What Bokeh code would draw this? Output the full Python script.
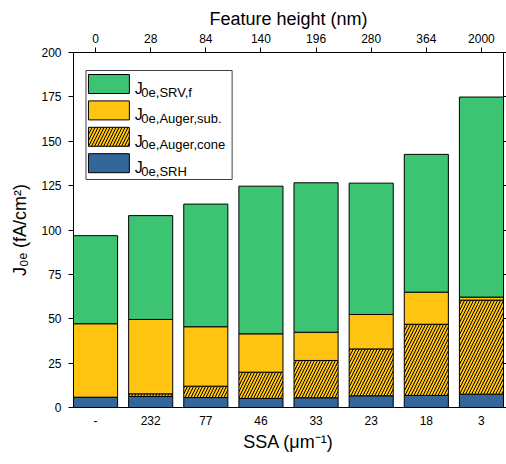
from bokeh.plotting import figure
from bokeh.models import Range1d, FixedTicker, LinearAxis, Label
from bokeh.embed import file_html
from bokeh.resources import INLINE

# ---------------- data ----------------
bar_pos = [1, 2, 3, 4, 5, 6, 7, 8]
ssa_labels = ["-", "232", "77", "46", "33", "23", "18", "3"]
height_labels = ["0", "28", "84", "140", "196", "280", "364", "2000"]
j_srh = [5.8, 6.2, 5.6, 5.1, 5.5, 6.6, 6.8, 7.5]
j_auger_cone = [0.0, 1.5, 6.4, 14.8, 21.0, 26.4, 40.1, 53.0]
j_auger_sub = [41.4, 41.9, 33.5, 21.6, 15.9, 19.4, 18.1, 1.7]
j_srv = [49.6, 58.5, 69.1, 83.2, 84.2, 74.0, 77.6, 112.7]
y_ticks = [0, 25, 50, 75, 100, 125, 150, 175, 200]

# ---------------- style ----------------
FONT = "Liberation Sans"
GREEN = "#3CC473"
YELLOW = "#FFC412"
BLUE = "#336699"
W, H = 506, 464
FL, FR, FT, FB = 73, 504, 52, 407     # frame edges (px)
X0, X1, Y0, Y1 = 0.6, 8.4, 0, 200

p = figure(width=W, height=H, x_range=Range1d(X0, X1), y_range=Range1d(Y0, Y1),
           output_backend="svg", toolbar_location=None,
           x_axis_location=None, y_axis_location=None,
           min_border_left=FL, min_border_right=W - FR,
           min_border_top=FT, min_border_bottom=H - FB)
p.xgrid.visible = False
p.ygrid.visible = False
p.outline_line_color = "black"
p.background_fill_color = "white"
p.border_fill_color = "white"

def style_axis(ax):
    ax.axis_line_color = "black"
    ax.major_tick_line_color = "black"
    ax.minor_tick_line_color = None
    ax.major_label_text_font = FONT
    ax.major_label_text_font_size = "12px"
    ax.major_label_text_color = "black"
    ax.major_tick_in = 0
    ax.axis_label_text_font = FONT
    ax.axis_label_text_font_size = "18px"
    ax.axis_label_text_font_style = "normal"
    ax.axis_label_text_color = "black"

xt = FixedTicker(ticks=bar_pos)
bottom = LinearAxis(ticker=xt, major_label_overrides={x: l for x, l in zip(bar_pos, ssa_labels)})
style_axis(bottom)
bottom.major_tick_out = 0
bottom.major_label_standoff = 8
bottom.axis_label = "SSA (μm⁻¹)"
bottom.axis_label_standoff = 4
p.add_layout(bottom, "below")

top = LinearAxis(ticker=xt, major_label_overrides={x: l for x, l in zip(bar_pos, height_labels)})
style_axis(top)
top.major_tick_out = 5
top.major_label_standoff = 5
top.axis_label = "Feature height (nm)"
top.axis_label_standoff = 2
p.add_layout(top, "above")

yt = FixedTicker(ticks=y_ticks)
left = LinearAxis(ticker=yt)
style_axis(left)
left.major_tick_out = 5
left.major_label_standoff = 7
left.axis_label = "J₀ₑ (fA/cm²)"
left.axis_label_standoff = 8
p.add_layout(left, "left")

right = LinearAxis(ticker=yt, major_label_overrides={t: "" for t in y_ticks})
style_axis(right)
right.major_tick_out = 3
right.major_label_standoff = 0
p.add_layout(right, "right")

# ---------------- stacked bars ----------------
b0 = [0.0] * len(bar_pos)
b1 = [a + b for a, b in zip(b0, j_srh)]
b2 = [a + b for a, b in zip(b1, j_auger_cone)]
b3 = [a + b for a, b in zip(b2, j_auger_sub)]
b4 = [a + b for a, b in zip(b3, j_srv)]

HATCH = dict(hatch_pattern="/", hatch_color="black", hatch_scale=6, hatch_weight=1)
common = dict(x=bar_pos, width=0.8, line_color="black", line_width=1)
p.vbar(bottom=b0, top=b1, fill_color=BLUE, **common)
p.vbar(bottom=b1, top=b2, fill_color=YELLOW, **HATCH, **common)
p.vbar(bottom=b2, top=b3, fill_color=YELLOW, **common)
p.vbar(bottom=b3, top=b4, fill_color=GREEN, **common)

# ---------------- legend (box, swatches, subscripted labels) ----------------
def dx(px):
    return X0 + (px - FL) * (X1 - X0) / (FR - FL)

def dy(py):
    return Y0 + (FB - py) * (Y1 - Y0) / (FB - FT)

def label(x, y, text, size):
    p.add_layout(Label(x=x, y=y, text=text, text_font=FONT,
                       text_font_size=f"{size}px", text_color="black",
                       text_align="left", text_baseline="alphabetic"))

legend_rows = [("0e,SRV,f", GREEN, False), ("0e,Auger,sub.", YELLOW, False),
               ("0e,Auger,cone", YELLOW, True), ("0e,SRH", BLUE, False)]
p.quad(left=dx(85.5), right=dx(232), top=dy(70), bottom=dy(179),
       fill_color="white", line_color="#404040", line_width=1)
for i, (sub, col, hatched) in enumerate(legend_rows):
    ty = 74 + i * 26.4
    kw = HATCH if hatched else {}
    p.quad(left=dx(88), right=dx(129), top=dy(ty), bottom=dy(ty + 19),
           fill_color=col, line_color="black", line_width=1, **kw)
    label(dx(134.5), dy(ty + 14), "J", 16)
    label(dx(141), dy(ty + 17.5), sub, 13)

open("out.html", "w").write(file_html(p, INLINE))
